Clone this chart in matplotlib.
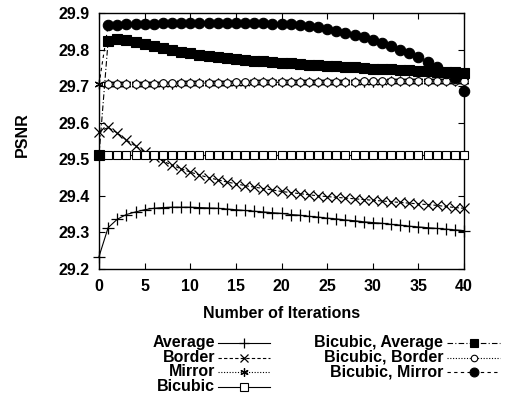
import matplotlib
matplotlib.use("Agg")
import matplotlib.pyplot as plt
from matplotlib.lines import Line2D
import numpy as np

plt.rcParams['font.family'] = ['Liberation Sans', 'DejaVu Sans']
plt.rcParams['font.weight'] = 'bold'

iterations = list(range(41))

average = [29.234, 29.313, 29.336, 29.349, 29.356, 29.362, 29.366, 29.368, 29.369, 29.369,
           29.369, 29.368, 29.367, 29.366, 29.364, 29.362, 29.360, 29.358, 29.356, 29.354,
           29.352, 29.349, 29.347, 29.344, 29.342, 29.339, 29.337, 29.334, 29.332, 29.329,
           29.327, 29.325, 29.322, 29.320, 29.317, 29.315, 29.313, 29.311, 29.309, 29.307,
           29.305]
border = [29.575, 29.587, 29.572, 29.553, 29.536, 29.521, 29.507, 29.495, 29.484, 29.474,
          29.465, 29.457, 29.450, 29.444, 29.438, 29.433, 29.428, 29.424, 29.420, 29.416,
          29.412, 29.409, 29.406, 29.403, 29.400, 29.398, 29.396, 29.394, 29.392, 29.390,
          29.388, 29.386, 29.384, 29.382, 29.380, 29.378, 29.376, 29.374, 29.371, 29.368,
          29.366]
mirror = [29.705, 29.705, 29.706, 29.706, 29.706, 29.707, 29.707, 29.707, 29.707, 29.708,
          29.708, 29.708, 29.708, 29.709, 29.709, 29.709, 29.709, 29.710, 29.710, 29.710,
          29.710, 29.710, 29.711, 29.711, 29.711, 29.711, 29.711, 29.712, 29.712, 29.712,
          29.712, 29.712, 29.713, 29.713, 29.713, 29.713, 29.713, 29.714, 29.714, 29.714,
          29.714]
bicubic = [29.511] * 41
bicubic_average = [29.511, 29.824, 29.828, 29.826, 29.821, 29.815, 29.809, 29.803, 29.798, 29.794,
                   29.790, 29.786, 29.783, 29.780, 29.777, 29.775, 29.772, 29.770, 29.768, 29.766,
                   29.764, 29.762, 29.760, 29.758, 29.757, 29.755, 29.754, 29.752, 29.751, 29.750,
                   29.748, 29.747, 29.746, 29.745, 29.744, 29.742, 29.741, 29.740, 29.739, 29.738,
                   29.736]
bicubic_border = [29.705, 29.706, 29.706, 29.706, 29.707, 29.707, 29.707, 29.708, 29.708, 29.708,
                  29.708, 29.709, 29.709, 29.709, 29.709, 29.710, 29.710, 29.710, 29.710, 29.711,
                  29.711, 29.711, 29.711, 29.711, 29.712, 29.712, 29.712, 29.712, 29.712, 29.713,
                  29.713, 29.713, 29.713, 29.714, 29.714, 29.714, 29.714, 29.714, 29.715, 29.715,
                  29.715]
bicubic_mirror = [29.705, 29.866, 29.868, 29.869, 29.870, 29.871, 29.871, 29.872, 29.872, 29.872,
                  29.873, 29.873, 29.873, 29.873, 29.873, 29.873, 29.873, 29.872, 29.872, 29.871,
                  29.870, 29.869, 29.867, 29.864, 29.861, 29.857, 29.852, 29.846, 29.840, 29.834,
                  29.827, 29.818, 29.809, 29.800, 29.790, 29.779, 29.766, 29.751, 29.736, 29.722,
                  29.688]

labels = ["Average", "Border", "Mirror", "Bicubic",
          "Bicubic, Average", "Bicubic, Border", "Bicubic, Mirror"]
xticks = [0, 5, 10, 15, 20, 25, 30, 35, 40]
yticks = [29.2, 29.3, 29.4, 29.5, 29.6, 29.7, 29.8, 29.9]

series = [average, border, mirror, bicubic, bicubic_average, bicubic_border, bicubic_mirror]
styles = [
    dict(ls='-', marker='+', ms=8.5, mew=0.9, mfc='black', zorder=3),
    dict(ls=(0, (3, 2)), marker='x', ms=7.5, mew=0.9, mfc='black', zorder=3),
    dict(ls=(0, (1, 1.5)), marker=(6, 2, 0), ms=7, mew=0.9, mfc='black', zorder=3),
    dict(ls='-', marker='s', ms=6.3, mew=0.8, mfc='white', zorder=3),
    dict(ls=(0, (5, 2, 1, 2)), marker='s', ms=7, mew=0.8, mfc='black', zorder=4),
    dict(ls=(0, (1, 1.5)), marker='o', ms=5.5, mew=0.8, mfc='white', zorder=3),
    dict(ls=(0, (3, 3)), marker='o', ms=7.5, mew=0.8, mfc='black', zorder=5),
]
mark_start = [0, 0, 0, 0, 0, 1, 1]

fig = plt.figure(figsize=(5.16, 4.04), dpi=100)
ax = fig.add_axes([99/516, 1-269/404, 365/516, 256/404])

for vals, st, m0 in zip(series, styles, mark_start):
    ax.plot(iterations, vals, color='black', lw=0.8, mec='black', clip_on=False,
            markevery=list(range(m0, len(vals))), **st)

ax.set_xlim(0, 40)
ax.set_ylim(29.2, 29.9)
ax.set_xticks(xticks)
ax.set_yticks(yticks)
ax.set_yticklabels([f"{v:.1f}" for v in yticks])
ax.tick_params(direction='in', top=True, right=True, length=4, width=0.8,
               labelsize=11.5, pad=7)
for s in ax.spines.values():
    s.set_linewidth(1.0)

ax.set_xlabel("Number of Iterations", fontsize=11.5, fontweight='bold')
ax.xaxis.set_label_coords(0.5, -0.172)
ax.xaxis.label.set_va('center')
ax.set_ylabel("PSNR", fontsize=11.5, fontweight='bold')
ax.yaxis.set_label_coords(-0.211, 0.523)
ax.yaxis.label.set_va('center')

# gnuplot-style legend: label right aligned, then sample
W, H = 516, 404
rows_y = [343, 357.5, 372, 386.5]
cols = [(215, 218, 270), (443, 447, 500)]
for i, (lab, st) in enumerate(zip(labels, styles)):
    col = 0 if i < 4 else 1
    row = i if i < 4 else i - 4
    tx, x0, x1 = cols[col]
    y = 1 - rows_y[row] / H
    fig.text(tx / W, y, lab, ha='right', va='center', fontsize=11.5, fontweight='bold')
    fig.add_artist(Line2D([x0 / W, x1 / W], [y, y], color='black', lw=0.8, ls=st['ls']))
    fig.add_artist(Line2D([(x0 + x1) / 2 / W], [y], color='black', lw=0, mec='black',
                          marker=st['marker'], ms=st['ms'] * 0.85, mew=st['mew'],
                          mfc=st['mfc']))

fig.savefig("out.png", dpi=100)
